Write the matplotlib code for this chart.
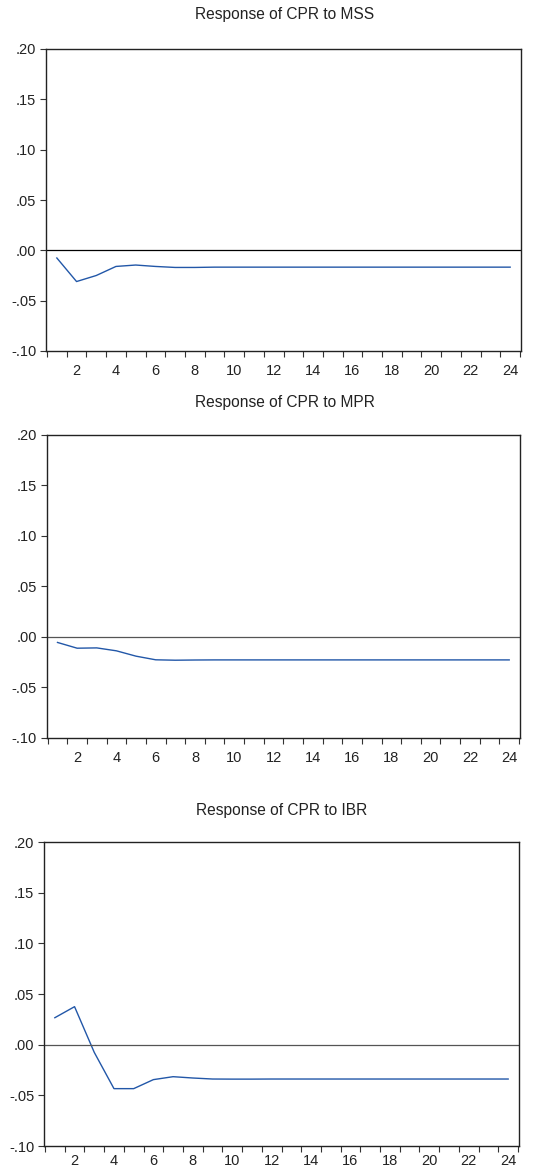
import numpy as np
import matplotlib
matplotlib.use("Agg")
from matplotlib import pyplot as plt

plt.rcParams['font.family'] = ['Liberation Sans', 'DejaVu Sans']

### data
periods = list(range(1, 25))

mss = [-0.0076, -0.031, -0.025, -0.016, -0.0146, -0.016, -0.017, -0.017,
       -0.0167, -0.0167, -0.0167, -0.0167, -0.0167, -0.0167, -0.0167, -0.0167,
       -0.0167, -0.0167, -0.0167, -0.0167, -0.0167, -0.0167, -0.0167, -0.0167]
mpr = [-0.0056, -0.0113, -0.011, -0.0139, -0.0192, -0.0228, -0.0232, -0.023,
       -0.0229, -0.0229, -0.0229, -0.0229, -0.0229, -0.0229, -0.0229, -0.0229,
       -0.0229, -0.0229, -0.0229, -0.0229, -0.0229, -0.0229, -0.0229, -0.0229]
ibr = [0.0266, 0.0375, -0.0076, -0.0434, -0.0434, -0.0345, -0.0316, -0.0329,
       -0.0339, -0.034, -0.034, -0.0339, -0.0339, -0.0339, -0.0339, -0.0339,
       -0.0339, -0.0339, -0.0339, -0.0339, -0.0339, -0.0339, -0.0339, -0.0339]

titles = ["Response of CPR to MSS", "Response of CPR to MPR", "Response of CPR to IBR"]
series = [mss, mpr, ibr]
zero_col = ["black", "#555555", "#555555"]

yticks = [-0.10, -0.05, 0.00, 0.05, 0.10, 0.15, 0.20]
ylabels = ["-.10", "-.05", ".00", ".05", ".10", ".15", ".20"]
xlabels = list(range(2, 25, 2))

W, H = 558., 1167.
# panel boxes in pixels: left, right, top, bottom, title x, title y, label pad
boxes = [(46, 521, 49, 351, 285, 15, 9.5),
         (46.7, 520, 435, 737.7, 285, 402, 9.5),
         (44, 519, 842, 1146, 282, 810, 6.0)]

fig = plt.figure(figsize=(W/100., H/100.), dpi=100)

for k in range(3):
    l, r, t, b, tx, ty, xpad = boxes[k]
    ax = fig.add_axes([l/W, 1 - b/H, (r - l)/W, (b - t)/H])
    ax.plot(periods, series[k], color="#2257A8", lw=1.0)
    ax.axhline(0, color=zero_col[k], lw=0.9)
    ax.set_xlim(0.45, 24.55)
    ax.set_ylim(-0.10, 0.20)
    ax.set_yticks(yticks)
    ax.set_yticklabels(ylabels)
    # tick marks between periods, labels on even periods
    ax.set_xticks(np.arange(0.5, 25, 1.0))
    ax.set_xticklabels([])
    ax.set_xticks(xlabels, minor=True)
    ax.set_xticklabels([str(v) for v in xlabels], minor=True)
    ax.tick_params(axis='x', which='major', direction='out', length=4.5, width=0.8, color="#333333")
    ax.tick_params(axis='x', which='minor', length=0, pad=xpad, labelsize=10.5, labelcolor="#222222")
    ax.tick_params(axis='y', direction='out', length=4.5, width=0.8, labelsize=10.5, pad=2.5,
                   color="#333333", labelcolor="#222222")
    for s in ax.spines.values():
        s.set_linewidth(1.0)
        s.set_color("#222222")
    fig.text(tx/W, 1 - ty/H, titles[k], ha='center', va='center',
             fontsize=11.2, color="#222222")

plt.savefig("out.png", dpi=100)
